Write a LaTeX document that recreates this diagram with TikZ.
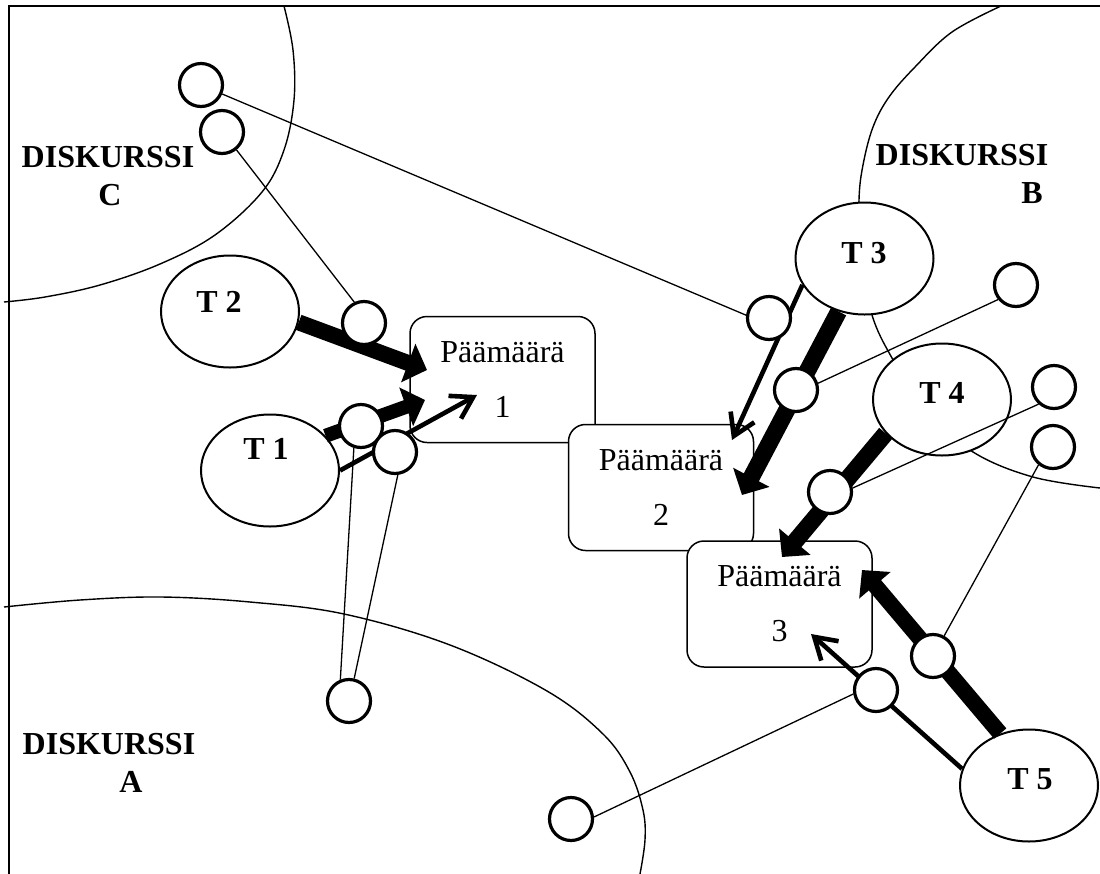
\documentclass[tikz,border=0pt]{standalone}
\usepackage{fontspec}
\setmainfont{Liberation Serif}
\usetikzlibrary{arrows.meta,shapes.geometric,calc}
\begin{document}
\begin{tikzpicture}[x=0.5pt,y=-0.5pt,
  tell/.style={ellipse, draw, line width=1pt, fill=white, minimum width=69pt, minimum height=56pt, inner sep=0pt},
  dot/.style={circle, draw, line width=1.6pt, fill=white, minimum size=21.5pt, inner sep=0pt},
  goal/.style={rectangle, rounded corners=8.5pt, draw, line width=0.75pt, fill=white, minimum width=92.5pt, minimum height=63pt, align=center, font=\fontsize{16}{19}\selectfont, inner sep=0pt},
  lbl/.style={font=\fontsize{16}{19}\selectfont\bfseries, anchor=base, inner sep=0pt},
  thinline/.style={line width=0.65pt},
  curveline/.style={line width=0.7pt},
  heavy/.style={line width=8pt, -{Triangle[length=10pt,width=20pt]}},
  medium/.style={line width=2.3pt, -{Straight Barb[length=10.5pt,width=13pt]}}
]
\useasboundingbox (0,0) rectangle (1100,874);
\fill[white] (0,0) rectangle (1100,874);

% frame
\draw[line width=1.1pt] (8.8,874) -- (8.8,6) -- (1100,6);

% discourse boundaries
\draw[curveline] plot[smooth, tension=0.6] coordinates {(284,6) (293,50) (294,100) (284,150) (262,192) (215,235) (160,264) (100,285) (45,297) (4,302)};
\draw[curveline] plot[smooth, tension=0.6] coordinates {(1001,6) (952,32) (915,67) (889,97) (873,127) (863,165) (859,200) (860,255) (872,315) (892,358) (925,410) (973,452) (1033,477) (1100,488)};
\draw[curveline] plot[smooth, tension=0.6] coordinates {(4,607) (80,600) (161,597) (250,602) (344,614) (450,645) (547,691) (603,734) (630,772) (643,810) (645,840) (640,874)};

% actors
\node[tell] (T2) at (230,311.5) {};
\node[tell] (T1) at (270,470.5) {};
\node[tell] (T3) at (864.5,258.5) {};
\node[tell] (T4) at (942,399.5) {};
\node[tell] (T5) at (1029,785.5) {};

% goals
\node[goal] (g1) at (502.5,379.5) {Päämäärä\\[8.5pt]1};
\node[goal] (g2) at (661,487.5) {Päämäärä\\[8.5pt]2};
\node[goal] (g3) at (779.5,604) {Päämäärä\\[8.5pt]3};

% small circles (positions)
\path
  (201,85) coordinate (p1)
  (222,132) coordinate (p2)
  (364,323) coordinate (p3)
  (769,318) coordinate (p5)
  (796,390) coordinate (p6)
  (1016,285) coordinate (p7)
  (1054,387) coordinate (p8)
  (1053,447) coordinate (p9)
  (830,492) coordinate (p10)
  (933,656) coordinate (p11)
  (876,690) coordinate (p12)
  (571,819) coordinate (p13)
  (349,701) coordinate (p14)
  (361,426) coordinate (p15)
  (395,452) coordinate (p16);

% arrow tips
\coordinate (tip2) at (427,370);
\coordinate (tip1) at (425,400);
\coordinate (tip1m) at (477,395);
\coordinate (tip3) at (742,495);
\coordinate (tip3m) at (732,440);
\coordinate (tip4) at (782,557);
\coordinate (tip5) at (862,570);
\coordinate (tip5m) at (811,634);

% arrows
\draw[heavy] (T2.-9) -- (tip2);
\draw[heavy, line width=7pt] (T1.32) -- (tip1);
\draw[medium] (T1.0) -- (tip1m);
\draw[heavy, line width=8.5pt] (T3.-116.8) -- (tip3);
\draw[medium] (T3.-157.4) -- (tip3m);
\draw[heavy, line width=8.5pt] (T4.-149.4) -- (tip4);
\draw[heavy] (T5.119.1) -- (tip5);
\draw[medium] (T5.166.6) -- (tip5m);

% small circles
\node[dot] (c1) at (p1) {};
\node[dot] (c2) at (p2) {};
\node[dot] (c3) at (p3) {};
\node[dot] (c5) at (p5) {};
\node[dot] (c6) at (p6) {};
\node[dot] (c7) at (p7) {};
\node[dot] (c8) at (p8) {};
\node[dot] (c9) at (p9) {};
\node[dot] (c10) at (p10) {};
\node[dot] (c11) at (p11) {};
\node[dot] (c12) at (p12) {};
\node[dot] (c13) at (p13) {};
\node[dot] (c14) at (p14) {};
\node[dot] (c15) at (p15) {};
\node[dot] (c16) at (p16) {};

% thin links
\draw[thinline] (c1.-23) -- (c5.173);
\draw[thinline] (c2.-51) -- (c3.115);
\draw[thinline] (c6.17) -- (c7.-141);
\draw[thinline] (c8.228) -- (c10.10);
\draw[thinline] (c9.-129) -- (c11.61);
\draw[thinline] (c12.190) -- (c13.5);
\draw[thinline] (c14.112) -- (c15.-108);
\draw[thinline] (c14.77) -- (c16.-83);

% labels
\node[lbl] (l2) at (219,312) {T 2};
\node[lbl] (l1) at (266,459) {T 1};
\node[lbl] (l3) at (864,263) {T 3};
\node[lbl] (l4) at (942,403) {T 4};
\node[lbl] (l5) at (1030,789) {T 5};

\node[lbl] (dC) at (108,167) {DISKURSSI};
\node[lbl] (dCl) at (110,205) {C};
\node[lbl] (dB) at (962,165) {DISKURSSI};
\node[lbl] (dBl) at (1032,203) {B};
\node[lbl] (dA) at (109,754) {DISKURSSI};
\node[lbl] (dAl) at (131,792) {A};
\end{tikzpicture}
\end{document}
